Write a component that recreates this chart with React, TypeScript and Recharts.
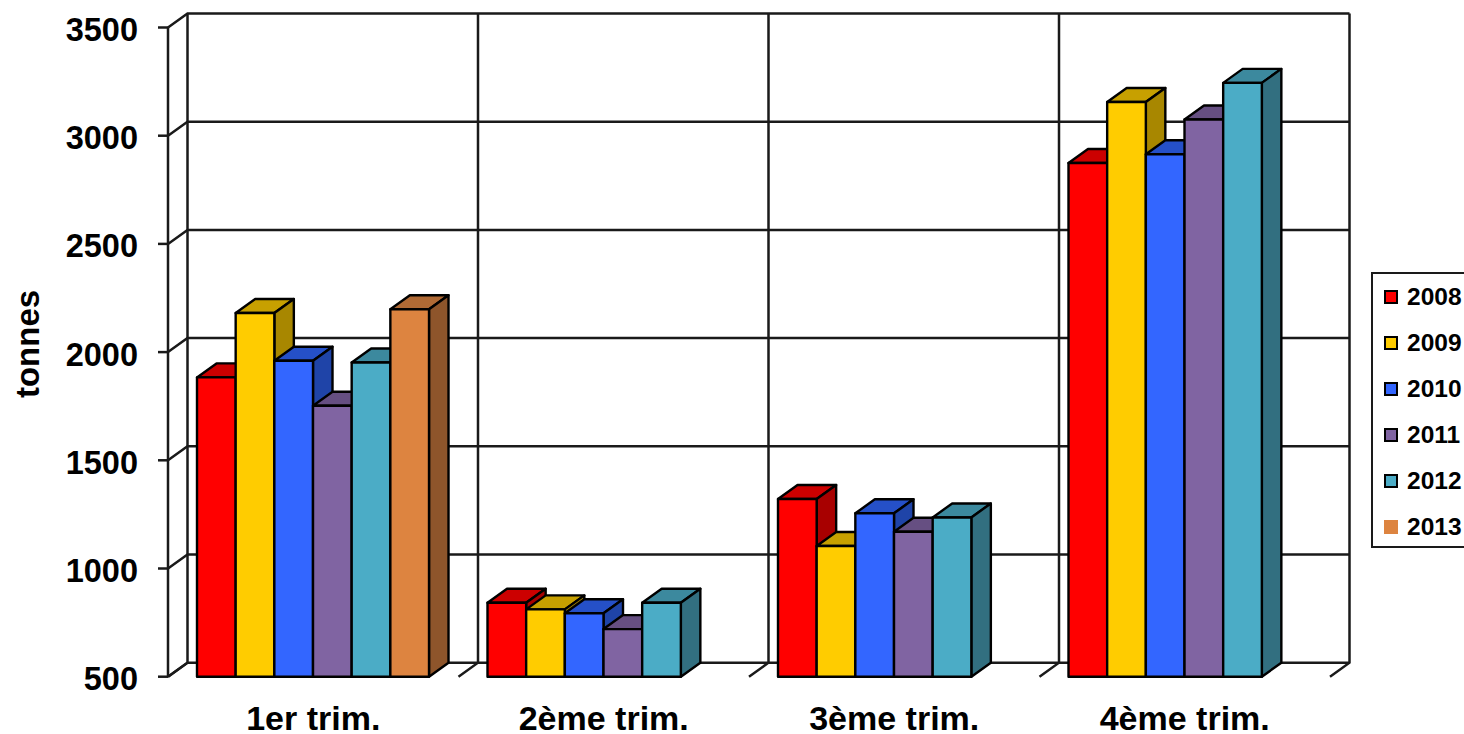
import { BarChart, Bar, XAxis, YAxis, CartesianGrid, Legend } from 'recharts'

const categories = ['1er trim.', '2ème trim.', '3ème trim.', '4ème trim.']
const v2008 = [1883, 842, 1321, 2874]
const v2009 = [2181, 811, 1104, 3156]
const v2010 = [1960, 793, 1255, 2914]
const v2011 = [1752, 720, 1170, 3075]
const v2012 = [1952, 842, 1236, 3244]
const v2013 = [2198, null, null, null]
const yTicks = [500, 1000, 1500, 2000, 2500, 3000, 3500]

const FONT = '"Liberation Sans", Arial, sans-serif'
const DEPTH_X = 19.5
const DEPTH_Y = 14
const LINE = '#1a1a1a'

const seriesList = [
  { name: '2008', values: v2008, front: '#FF0000', top: '#CC0000', side: '#A80000' },
  { name: '2009', values: v2009, front: '#FFCC00', top: '#C7A000', side: '#A88700' },
  { name: '2010', values: v2010, front: '#3366FF', top: '#2550C8', side: '#1F44A8' },
  { name: '2011', values: v2011, front: '#8064A2', top: '#664F82', side: '#55436C' },
  { name: '2012', values: v2012, front: '#4BACC6', top: '#3C899E', side: '#326F80' },
  { name: '2013', values: v2013, front: '#DD8440', top: '#B06A35', side: '#8E552B' },
]

const data = categories.map((name, i) => {
  const row: Record<string, string | number | null> = { name }
  for (const s of seriesList) row[s.name] = s.values[i]
  return row
})

// Bar with the top and side faces of the 3D look
function Bar3D(props: any) {
  const { x, y, width, height, value, colors } = props
  if (value == null || !height) return null
  const r = x + width
  const b = y + height
  const dx = DEPTH_X
  const dy = DEPTH_Y
  return (
    <g stroke="#000" strokeWidth={2.4} strokeLinejoin="round">
      <polygon points={`${x},${y} ${x + dx},${y - dy} ${r + dx},${y - dy} ${r},${y}`} fill={colors.top} />
      <polygon points={`${r},${y} ${r + dx},${y - dy} ${r + dx},${b - dy} ${r},${b}`} fill={colors.side} />
      <rect x={x} y={y} width={width} height={height} fill={colors.front} />
    </g>
  )
}

// Back wall line plus the connector on the left wall
function WallLine(props: any) {
  const { x1, x2, y1 } = props
  return (
    <g key={props.key} stroke={LINE} strokeWidth={2.5} fill="none">
      <path d={`M${x1},${y1} L${x1 + DEPTH_X},${y1 - DEPTH_Y} L${x2 + DEPTH_X},${y1 - DEPTH_Y}`} />
    </g>
  )
}

// Back wall vertical plus the floor diagonal
function WallVertical(props: any) {
  const { x1, y1, y2 } = props
  return (
    <g key={props.key} stroke={LINE} strokeWidth={2.5} fill="none">
      <path d={`M${x1},${y2} L${x1 + DEPTH_X},${y2 - DEPTH_Y} L${x1 + DEPTH_X},${y1 - DEPTH_Y}`} />
    </g>
  )
}

function LegendBox() {
  return (
    <div
      style={{
        boxSizing: 'border-box',
        width: 110,
        height: 276,
        border: '2px solid #1a1a1a',
        background: '#fff',
        fontFamily: FONT,
        fontWeight: 700,
        fontSize: 24.5,
        color: '#000',
      }}
    >
      {seriesList.map((s) => (
        <div key={s.name} style={{ display: 'flex', alignItems: 'center', height: 46, marginLeft: 11 }}>
          <span
            style={{
              boxSizing: 'border-box',
              display: 'inline-block',
              width: 14,
              height: 14,
              marginRight: 9,
              background: s.front,
              border: s.name === '2013' ? 'none' : '2px solid #000',
            }}
          />
          {s.name}
        </div>
      ))}
    </div>
  )
}

export default function App() {
  return (
    <div style={{ position: 'absolute', left: 0, top: 0, width: 1464, height: 734, overflow: 'hidden', background: '#fff' }}>
      <BarChart
        width={1464}
        height={734}
        data={data}
        margin={{ top: 27.5, right: 134, bottom: 0, left: 68 }}
        barSize={38.67}
        barGap={0}
      >
        <CartesianGrid
          horizontal={(p: any) => <WallLine {...p} />}
          vertical={(p: any) => <WallVertical {...p} />}
          verticalCoordinatesGenerator={({ offset }: any) =>
            [0, 1, 2, 3, 4].map((i) => offset.left + (i * offset.width) / 4)
          }
        />
        <XAxis
          dataKey="name"
          interval={0}
          axisLine={false}
          tickLine={false}
          tickMargin={23}
          height={57.3}
          tick={{ fontFamily: FONT, fontWeight: 700, fontSize: 34, fill: '#000' }}
        />
        <YAxis
          type="number"
          domain={[500, 3500]}
          ticks={yTicks}
          interval={0}
          width={100}
          tickSize={10}
          tickMargin={20}
          axisLine={{ stroke: LINE, strokeWidth: 2.5 }}
          tickLine={{ stroke: LINE, strokeWidth: 2.5 }}
          tick={{ fontFamily: FONT, fontWeight: 700, fontSize: 32.5, fill: '#000', dy: 2 }}
          label={{
            value: 'tonnes',
            angle: -90,
            position: { x: -29, y: 316.5 },
            style: { fontFamily: FONT, fontWeight: 700, fontSize: 33, fill: '#000', textAnchor: 'middle' },
          }}
        />
        <Legend
          layout="vertical"
          align="center"
          verticalAlign="middle"
          content={<LegendBox />}
          wrapperStyle={{ left: 1371, top: 272, width: 110, height: 276 }}
        />
        {seriesList.map((s) => (
          <Bar
            key={s.name}
            dataKey={s.name}
            isAnimationActive={false}
            fill={s.front}
            shape={(p: any) => <Bar3D {...p} colors={s} />}
          />
        ))}
      </BarChart>
    </div>
  )
}
